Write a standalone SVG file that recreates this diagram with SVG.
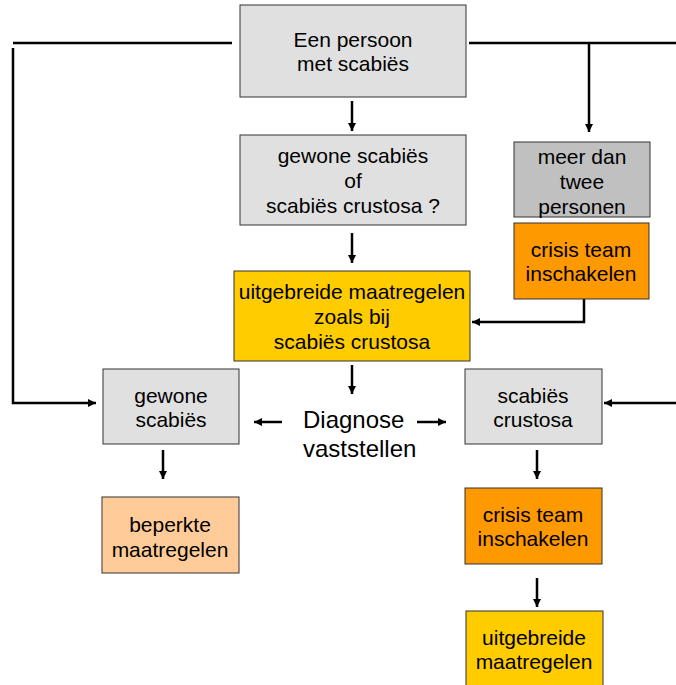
<svg xmlns="http://www.w3.org/2000/svg" width="676" height="685" viewBox="0 0 676 685">
<style>
.box{stroke:#333;stroke-width:1}
.grey{fill:#e0e0e0}
.dgrey{fill:#c0c0c0}
.orange{fill:#ff9900}
.yellow{fill:#ffcc00}
.peach{fill:#ffcc99}
text{font-family:"Liberation Sans",Arial,sans-serif;font-size:21px;fill:#000;text-anchor:middle}
.big{font-size:24px;text-anchor:start}
.ln{fill:none;stroke:#000;stroke-width:2.5}
</style>
<defs>
<marker id="ah" viewBox="0 0 10 10" refX="10" refY="5" markerWidth="8" markerHeight="8" markerUnits="userSpaceOnUse" orient="auto">
<path d="M0,0 L10,5 L0,10 z" fill="#000"/>
</marker>
</defs>
<rect width="676" height="685" fill="#fff"/>
<g id="connectors">
<path class="ln" d="M232,43 H13"/>
<path class="ln" d="M13,48 V403 H96" marker-end="url(#ah)"/>
<path class="ln" d="M469,43 H676"/>
<path class="ln" d="M589,43 V132" marker-end="url(#ah)"/>
<path class="ln" d="M352,101 V131" marker-end="url(#ah)"/>
<path class="ln" d="M352,233 V263" marker-end="url(#ah)"/>
<path class="ln" d="M584,299 V322 H472" marker-end="url(#ah)"/>
<path class="ln" d="M352,365 V394" marker-end="url(#ah)"/>
<path class="ln" d="M282,422 H254" marker-end="url(#ah)"/>
<path class="ln" d="M417,422 H446" marker-end="url(#ah)"/>
<path class="ln" d="M676,403 H604" marker-end="url(#ah)"/>
<path class="ln" d="M163,450 V479" marker-end="url(#ah)"/>
<path class="ln" d="M537,450 V479" marker-end="url(#ah)"/>
<path class="ln" d="M537,578 V607" marker-end="url(#ah)"/>
</g>
<g id="n-persoon">
<rect class="box grey" x="240" y="5" width="226" height="92"/>
<text x="353" y="47">Een persoon</text>
<text x="353" y="71">met scabiës</text>
</g>
<g id="n-vraag">
<rect class="box grey" x="240" y="135" width="226" height="90"/>
<text x="353" y="163">gewone scabiës</text>
<text x="353" y="188">of</text>
<text x="353" y="213">scabiës crustosa ?</text>
</g>
<g id="n-meer">
<rect class="box dgrey" x="514" y="142" width="136" height="75"/>
<text x="582" y="164">meer dan</text>
<text x="582" y="189">twee</text>
<text x="582" y="214">personen</text>
</g>
<g id="n-crisis1">
<rect class="box orange" x="514" y="223" width="135" height="76"/>
<text x="581" y="257">crisis team</text>
<text x="581" y="281">inschakelen</text>
</g>
<g id="n-uitgebreid1">
<rect class="box yellow" x="234" y="271" width="236" height="90"/>
<text x="352" y="299">uitgebreide maatregelen</text>
<text x="352" y="324">zoals bij</text>
<text x="352" y="349">scabiës crustosa</text>
</g>
<g id="n-gewone">
<rect class="box grey" x="103" y="369" width="136" height="75"/>
<text x="171" y="403">gewone</text>
<text x="171" y="427">scabiës</text>
</g>
<g id="n-diagnose">
<text class="big" x="303" y="428">Diagnose</text>
<text class="big" x="303" y="457">vaststellen</text>
</g>
<g id="n-crustosa">
<rect class="box grey" x="465" y="369" width="137" height="75"/>
<text x="533" y="403">scabiës</text>
<text x="533" y="427">crustosa</text>
</g>
<g id="n-beperkt">
<rect class="box peach" x="102" y="497" width="137" height="76"/>
<text x="170" y="532">beperkte</text>
<text x="170" y="557">maatregelen</text>
</g>
<g id="n-crisis2">
<rect class="box orange" x="465" y="488" width="137" height="76"/>
<text x="533" y="522">crisis team</text>
<text x="533" y="546">inschakelen</text>
</g>
<g id="n-uitgebreid2">
<rect class="box yellow" x="466" y="611" width="137" height="80"/>
<text x="534" y="645">uitgebreide</text>
<text x="534" y="669">maatregelen</text>
</g>
</svg>
